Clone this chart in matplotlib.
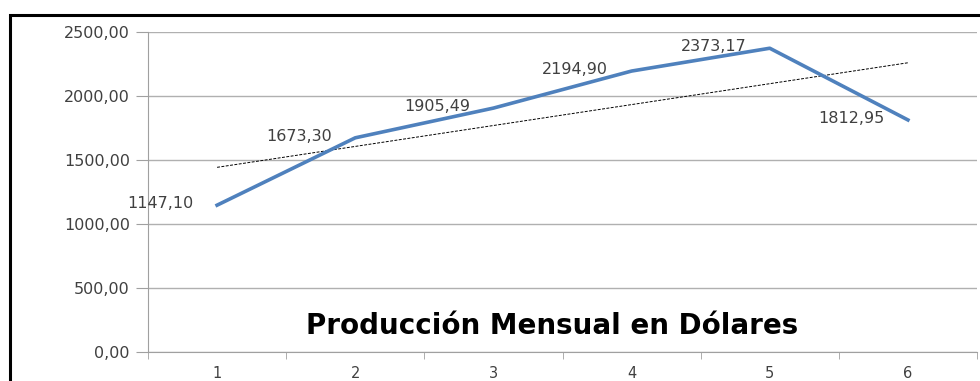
import numpy as np
import matplotlib
matplotlib.use('Agg')
import matplotlib.pyplot as plt
from matplotlib.patches import Rectangle

meses = [1, 2, 3, 4, 5, 6]
produccion = [1147.10, 1673.30, 1905.49, 2194.90, 2373.17, 1812.95]
etiquetas = ["1147,10", "1673,30", "1905,49", "2194,90", "2373,17", "1812,95"]
yticks = [0, 500, 1000, 1500, 2000, 2500]
ytick_labels = ["0,00", "500,00", "1000,00", "1500,00", "2000,00", "2500,00"]
titulo = "Producción Mensual en Dólares"

fig = plt.figure(figsize=(9.8, 3.81), dpi=100)
# marco negro (recortado a la derecha y abajo)
fig.patches.append(Rectangle((10/980, -0.1), 1.2, 1 - 15/381 + 0.1, transform=fig.transFigure,
                             fill=False, edgecolor='black', linewidth=2.2))
ax = fig.add_axes([148/980, 1 - 352/381, 829/980, 320/381])

ax.plot(meses, produccion, color='#4f81bd', linewidth=2.6, zorder=3)
# linea de tendencia lineal
k, b = np.polyfit(meses, produccion, 1)
xt = np.array([meses[0], meses[-1]])
ax.plot(xt, k*xt + b, '--', color='black', linewidth=0.7, dashes=(3, 1.5), zorder=2)

for x, y, t in zip(meses, produccion, etiquetas):
    ax.annotate(t, (x, y), xytext=(-17, 1), textcoords='offset points', ha='right', va='center',
                fontsize=11.5, color='#404040')

ax.set_xlim(0.5, 6.5)
ax.set_ylim(0, 2500)
ax.set_yticks(yticks)
ax.set_yticklabels(ytick_labels)
ax.set_xticks(meses)
ax.set_xticks(np.arange(0.5, 7, 1), minor=True)
ax.tick_params(axis='x', which='major', length=0, pad=10, labelsize=10.5, labelcolor='#404040')
ax.tick_params(axis='x', which='minor', length=5, color='#a0a0a0', direction='out')
ax.tick_params(axis='y', length=9, color='#a0a0a0', pad=4, labelsize=11.5, labelcolor='#404040')
ax.grid(True, axis='y', color='#b0b0b0', linewidth=1)
for s in ['top', 'right']:
    ax.spines[s].set_visible(False)
ax.spines['left'].set_color('#a0a0a0')
ax.spines['bottom'].set_color('#a0a0a0')

ax.text(552/980, 1 - 326/381, titulo, transform=fig.transFigure, ha='center', va='center',
        fontsize=20, fontweight='bold', color='black')

plt.savefig("out.png")
